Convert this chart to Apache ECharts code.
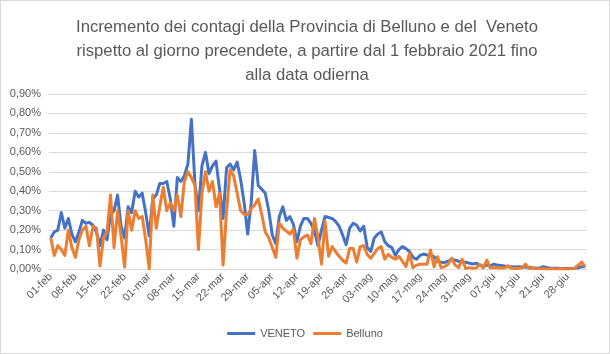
<!DOCTYPE html>
<html>
<head>
<meta charset="utf-8">
<script src="https://cdn.jsdelivr.net/npm/echarts@6/dist/echarts.min.js"></script>
<style>
  html, body { margin: 0; padding: 0; background: #fff; }
  #chart { width: 610px; height: 354px; box-sizing: border-box; border: 1px solid #d9d9d9; }
</style>
</head>
<body>
<div id="chart"></div>
<script>
// incremento % giornaliero, dal 01-feb-2021
const veneto = [
  0.16, 0.19, 0.20, 0.29, 0.21, 0.26, 0.18, 0.14, 0.19, 0.25,
  0.235, 0.24, 0.225, 0.19, 0.12, 0.20, 0.15, 0.28, 0.30, 0.38,
  0.22, 0.16, 0.32, 0.29, 0.40, 0.37, 0.39, 0.29, 0.17, 0.36,
  0.38, 0.44, 0.44, 0.45, 0.36, 0.22, 0.47, 0.45, 0.48, 0.54,
  0.77, 0.44, 0.30, 0.53, 0.60, 0.49, 0.53, 0.555, 0.41, 0.26,
  0.52, 0.54, 0.51, 0.55, 0.46, 0.34, 0.18, 0.34, 0.61, 0.43,
  0.41, 0.39, 0.30, 0.175, 0.13, 0.27, 0.32, 0.25, 0.27, 0.23,
  0.14, 0.22, 0.26, 0.26, 0.235, 0.195, 0.12, 0.20, 0.27, 0.265,
  0.26, 0.245, 0.22, 0.175, 0.125, 0.21, 0.235, 0.225, 0.195, 0.22,
  0.11, 0.09, 0.16, 0.18, 0.19, 0.14, 0.12, 0.11, 0.07, 0.10,
  0.115, 0.105, 0.09, 0.06, 0.05, 0.07, 0.077, 0.072, 0.07, 0.063,
  0.04, 0.035, 0.034, 0.04, 0.05, 0.045, 0.04, 0.035, 0.035, 0.03,
  0.026, 0.03, 0.02, 0.015, 0.02, 0.015, 0.025, 0.02, 0.018, 0.015,
  0.012, 0.012, 0.01, 0.012, 0.01, 0.01, 0.008, 0.006, 0.005, 0.004,
  0.012, 0.008, 0.005, 0.004, 0.004, 0.003, 0.003, 0.003, 0.003, 0.004,
  0.006, 0.012, 0.012
];
const belluno = [
  0.16, 0.07, 0.12, 0.10, 0.07, 0.20, 0.11, 0.06, 0.15, 0.20,
  0.22, 0.12, 0.22, 0.21, 0.015, 0.16, 0.19, 0.38, 0.11, 0.30,
  0.17, 0.01, 0.30, 0.20, 0.30, 0.26, 0.27, 0.15, 0.00, 0.38,
  0.21, 0.32, 0.42, 0.30, 0.34, 0.30, 0.38, 0.27, 0.45, 0.50,
  0.47, 0.43, 0.10, 0.39, 0.50, 0.40, 0.45, 0.32, 0.39, 0.02,
  0.30, 0.51, 0.48, 0.39, 0.30, 0.28, 0.28, 0.31, 0.33, 0.36,
  0.28, 0.19, 0.16, 0.11, 0.06, 0.235, 0.21, 0.195, 0.18, 0.205,
  0.055, 0.15, 0.165, 0.175, 0.13, 0.26, 0.16, 0.025, 0.245, 0.065,
  0.115, 0.09, 0.065, 0.045, 0.03, 0.105, 0.105, 0.035, 0.115, 0.12,
  0.075, 0.055, 0.08, 0.105, 0.115, 0.05, 0.075, 0.06, 0.05, 0.065,
  0.04, 0.012, 0.08, 0.007, 0.02, 0.024, 0.025, 0.024, 0.098, 0.012,
  0.063, 0.007, 0.012, 0.024, 0.055, 0.02, 0.007, 0.05, 0.003, 0.007,
  0.004, 0.005, 0.024, 0.006, 0.046, 0.006, 0.007, 0.008, 0.006, 0.005,
  0.017, 0.004, 0.003, 0.004, 0.005, 0.025, 0.004, 0.004, 0.002, 0.001,
  0.001, 0.0, 0.001, 0.001, 0.0, 0.001, 0.0, 0.0, 0.001, 0.004,
  0.02, 0.035, 0.01
];

const mesi = ['gen', 'feb', 'mar', 'apr', 'mag', 'giu', 'lug'];
const categories = [];
for (let i = 0; i < veneto.length; i++) {
  const d = new Date(2021, 1, 1 + i);
  categories.push(String(d.getDate()).padStart(2, '0') + '-' + mesi[d.getMonth()]);
}

const grey = '#595959';
const font = 'Liberation Sans, Arial, sans-serif';

const chart = echarts.init(document.getElementById('chart'));
chart.setOption({
  animation: false,
  textStyle: { fontFamily: font },
  title: {
    text: 'Incremento dei contagi della Provincia di Belluno e del  Veneto\nrispetto al giorno precendete, a partire dal 1 febbraio 2021 fino\nalla data odierna',
    left: 301,
    top: 9,
    textAlign: 'center',
    textStyle: { fontFamily: font, fontSize: 16.7, fontWeight: 'normal', color: grey, lineHeight: 24, align: 'center' }
  },
  legend: {
    bottom: 9,
    left: 'center',
    icon: 'rect',
    itemWidth: 28,
    itemHeight: 3,
    itemGap: 8,
    textStyle: { color: grey, fontSize: 11, fontFamily: font },
    data: ['VENETO', 'Belluno']
  },
  grid: { left: 48, right: 22, top: 93, bottom: 84 },
  xAxis: {
    type: 'category',
    data: categories,
    boundaryGap: true,
    axisLine: { lineStyle: { color: '#d9d9d9' } },
    axisTick: { interval: 6, length: 5, lineStyle: { color: '#bfbfbf' } },
    axisLabel: { interval: 6, rotate: 45, color: grey, fontSize: 11, margin: 6 }
  },
  yAxis: {
    type: 'value',
    min: 0,
    max: 0.9,
    interval: 0.1,
    axisLine: { show: false },
    axisTick: { show: false },
    splitLine: { lineStyle: { color: '#d9d9d9' } },
    axisLabel: {
      color: grey,
      fontSize: 11,
      margin: 8,
      formatter: v => v.toFixed(2).replace('.', ',') + '%'
    }
  },
  series: [
    {
      name: 'VENETO', type: 'line', data: veneto, symbol: 'none',
      itemStyle: { color: '#4472C4' },
      lineStyle: { width: 3, color: '#4472C4', join: 'round' }
    },
    {
      name: 'Belluno', type: 'line', data: belluno, symbol: 'none',
      itemStyle: { color: '#ED7D31' },
      lineStyle: { width: 3, color: '#ED7D31', join: 'round' }
    }
  ]
});
</script>
</body>
</html>
